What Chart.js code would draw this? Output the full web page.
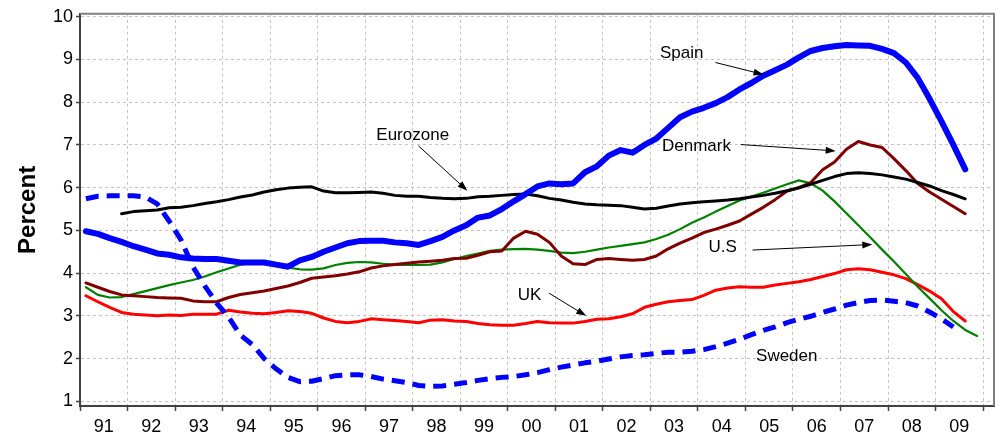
<!DOCTYPE html>
<html>
<head>
<meta charset="utf-8">
<script src="https://cdn.jsdelivr.net/npm/chart.js@4.4.1/dist/chart.umd.min.js"></script>
<style>
  body { margin: 0; background: #fff; }
  #wrap { width: 1005px; height: 435px; }
</style>
</head>
<body>
<div id="wrap"><canvas id="unempChart"></canvas></div>
<script>
// years on the axis, quarterly points inside each year
var years = [1991, 1992, 1993, 1994, 1995, 1996, 1997, 1998, 1999, 2000,
             2001, 2002, 2003, 2004, 2005, 2006, 2007, 2008, 2009];
var yTicks = [1, 2, 3, 4, 5, 6, 7, 8, 9, 10];

// values per quarter, Q1..Q4 on each line
var spain = [
    4.98, 4.92, 4.82, 4.73,
    4.63, 4.55, 4.46, 4.43,
    4.37, 4.34, 4.33, 4.33,
    4.29, 4.25, 4.25, 4.25,
    4.20, 4.15, 4.30, 4.38,
    4.50, 4.60, 4.70, 4.75,
    4.76, 4.76, 4.72, 4.70,
    4.66, 4.75, 4.85, 5.00,
    5.12, 5.30, 5.35, 5.50,
    5.68, 5.85, 6.03, 6.10,
    6.08, 6.10, 6.36, 6.50,
    6.75, 6.88, 6.82, 7.00,
    7.15, 7.40, 7.65, 7.78,
    7.87, 7.98, 8.12, 8.30,
    8.45, 8.62, 8.75, 8.88,
    9.05, 9.20, 9.27, 9.31,
    9.34, 9.33, 9.32, 9.25,
    9.15, 8.93, 8.57, 8.08,
    7.55, 7.00, 6.43, null
];
var sweden = [
    5.74, 5.80, 5.81, 5.81,
    5.81, 5.78, 5.62, 5.22,
    4.78, 4.15, 3.70, 3.30,
    2.97, 2.55, 2.33, 2.00,
    1.76, 1.56, 1.46, 1.47,
    1.53, 1.60, 1.62, 1.62,
    1.58, 1.52, 1.48, 1.44,
    1.37, 1.35, 1.36, 1.40,
    1.44, 1.49, 1.53, 1.56,
    1.58, 1.62, 1.67, 1.74,
    1.80, 1.85, 1.90, 1.94,
    1.99, 2.04, 2.07, 2.09,
    2.12, 2.15, 2.15, 2.17,
    2.21, 2.28, 2.36, 2.45,
    2.56, 2.66, 2.74, 2.84,
    2.92, 2.99, 3.08, 3.16,
    3.25, 3.31, 3.36, 3.37,
    3.34, 3.31, 3.23, 3.09,
    2.93, 2.74, null, null
];
var eurozone = [
    null, null, null, 5.39,
    5.44, 5.46, 5.48, 5.53,
    5.54, 5.58, 5.63, 5.67,
    5.72, 5.78, 5.83, 5.90,
    5.95, 5.99, 6.01, 6.02,
    5.92, 5.88, 5.88, 5.89,
    5.90, 5.87, 5.82, 5.80,
    5.80, 5.77, 5.75, 5.74,
    5.75, 5.79, 5.80, 5.82,
    5.84, 5.85, 5.81, 5.75,
    5.71, 5.66, 5.62, 5.60,
    5.59, 5.58, 5.54, 5.50,
    5.52, 5.57, 5.62, 5.65,
    5.67, 5.69, 5.71, 5.74,
    5.78, 5.82, 5.87, 5.93,
    6.00, 6.08, 6.17, 6.26,
    6.33, 6.35, 6.33, 6.30,
    6.25, 6.20, 6.12, 6.04,
    5.93, 5.84, 5.74, null
];
var denmark = [
    3.77, 3.67, 3.57, 3.49,
    3.47, 3.45, 3.43, 3.42,
    3.41, 3.35, 3.33, 3.33,
    3.43, 3.50, 3.54, 3.58,
    3.64, 3.70, 3.78, 3.88,
    3.91, 3.94, 3.98, 4.03,
    4.12, 4.17, 4.20, 4.23,
    4.26, 4.28, 4.30, 4.34,
    4.35, 4.42, 4.50, 4.52,
    4.82, 4.98, 4.91, 4.72,
    4.40, 4.22, 4.20, 4.32,
    4.34, 4.32, 4.30, 4.32,
    4.40, 4.57, 4.70, 4.82,
    4.95, 5.03, 5.12, 5.22,
    5.38, 5.54, 5.72, 5.92,
    6.00, 6.12, 6.42, 6.60,
    6.90, 7.08, 7.00, 6.94,
    6.68, 6.40, 6.10, 5.90,
    5.73, 5.56, 5.39, null
];
var us = [
    3.67, 3.49, 3.43, 3.44,
    3.51, 3.58, 3.65, 3.72,
    3.78, 3.84, 3.92, 4.02,
    4.11, 4.20, 4.24, 4.24,
    4.20, 4.13, 4.09, 4.08,
    4.11, 4.19, 4.24, 4.26,
    4.25, 4.22, 4.20, 4.19,
    4.19, 4.20, 4.25, 4.33,
    4.40, 4.46, 4.52, 4.55,
    4.56, 4.57, 4.55, 4.52,
    4.48, 4.47, 4.50, 4.55,
    4.60, 4.64, 4.68, 4.72,
    4.80, 4.90, 5.03, 5.18,
    5.30, 5.44, 5.57, 5.70,
    5.79, 5.88, 5.98, 6.08,
    6.17, 6.10, 5.93, 5.68,
    5.40, 5.12, 4.84, 4.55,
    4.27, 3.98, 3.68, 3.41,
    3.13, 2.88, 2.67, 2.53
];
var uk = [
    3.47, 3.33, 3.20, 3.08,
    3.04, 3.02, 3.00, 3.02,
    3.01, 3.04, 3.04, 3.04,
    3.13, 3.09, 3.06, 3.05,
    3.08, 3.12, 3.10, 3.06,
    2.95, 2.87, 2.84, 2.87,
    2.93, 2.91, 2.89, 2.87,
    2.84, 2.90, 2.91, 2.88,
    2.87, 2.82, 2.79, 2.78,
    2.78, 2.82, 2.87, 2.84,
    2.83, 2.83, 2.87, 2.92,
    2.93, 2.98, 3.05, 3.20,
    3.27, 3.33, 3.36, 3.38,
    3.48, 3.60, 3.65, 3.68,
    3.67, 3.67, 3.72, 3.76,
    3.80, 3.85, 3.92, 3.99,
    4.08, 4.10, 4.08, 4.02,
    3.96, 3.87, 3.73, 3.58,
    3.40, 3.10, 2.88, null
];

// text labels with arrows, in axis units (year, percent)
var notes = [
    { text: 'Spain',    x: 2003.66, y: 9.15, from: [2004.37, 8.93], to: [2005.38, 8.65] },
    { text: 'Eurozone', x: 1998.00, y: 7.23, from: [1998.12, 6.98], to: [1999.15, 5.93] },
    { text: 'Denmark',  x: 2003.97, y: 6.96, from: [2004.90, 7.01], to: [2006.90, 6.86] },
    { text: 'U.S',      x: 2004.52, y: 4.60, from: [2005.15, 4.54], to: [2007.67, 4.67] },
    { text: 'UK',       x: 2000.46, y: 3.49, from: [2000.87, 3.53], to: [2001.65, 3.00] },
    { text: 'Sweden',   x: 2005.87, y: 2.05 }
];

var FONT = "'Liberation Sans', Arial, sans-serif";

// quarter midpoints
var quarters = [];
years.forEach(function (y) {
    for (var q = 0; q < 4; q++) quarters.push(y + q * 0.25 + 0.125);
});

function toPoints(values) {
    return quarters.map(function (x, i) { return { x: x, y: values[i] }; });
}

function drawArrow(ctx, x1, y1, x2, y2) {
    var ang = Math.atan2(y2 - y1, x2 - x1);
    var len = 10, half = 3.5;
    ctx.beginPath();
    ctx.moveTo(x1, y1);
    ctx.lineTo(x2 - Math.cos(ang) * len * 0.8, y2 - Math.sin(ang) * len * 0.8);
    ctx.stroke();
    ctx.beginPath();
    ctx.moveTo(x2, y2);
    ctx.lineTo(x2 - Math.cos(ang) * len + Math.sin(ang) * half, y2 - Math.sin(ang) * len - Math.cos(ang) * half);
    ctx.lineTo(x2 - Math.cos(ang) * len - Math.sin(ang) * half, y2 - Math.sin(ang) * len + Math.cos(ang) * half);
    ctx.closePath();
    ctx.fill();
}

var framePlugin = {
    id: 'frame',
    beforeDatasetsDraw: function (chart) {
        var a = chart.chartArea, ctx = chart.ctx;
        ctx.save();
        ctx.strokeStyle = '#808080';
        ctx.lineWidth = 2;
        ctx.beginPath();
        ctx.moveTo(a.left, a.top);
        ctx.lineTo(a.right, a.top);
        ctx.lineTo(a.right, a.bottom);
        ctx.stroke();
        ctx.restore();
    }
};

var notesPlugin = {
    id: 'notes',
    afterDatasetsDraw: function (chart) {
        var xs = chart.scales.x, ys = chart.scales.y, ctx = chart.ctx;
        ctx.save();
        ctx.fillStyle = '#000';
        ctx.strokeStyle = '#000';
        ctx.lineWidth = 1;
        ctx.font = '17px ' + FONT;
        ctx.textAlign = 'center';
        ctx.textBaseline = 'middle';
        notes.forEach(function (n) {
            ctx.fillText(n.text, xs.getPixelForValue(n.x), ys.getPixelForValue(n.y));
            if (n.from) {
                drawArrow(ctx,
                    xs.getPixelForValue(n.from[0]), ys.getPixelForValue(n.from[1]),
                    xs.getPixelForValue(n.to[0]), ys.getPixelForValue(n.to[1]));
            }
        });
        ctx.restore();
    }
};

function line(label, values, color, width, dash) {
    return {
        label: label,
        data: toPoints(values),
        borderColor: color,
        backgroundColor: color,
        borderWidth: width,
        borderDash: dash || [],
        borderCapStyle: dash ? 'butt' : 'round',
        borderJoinStyle: 'round',
        pointRadius: 0,
        tension: 0,
        spanGaps: false,
        fill: false
    };
}

var ctx = document.getElementById('unempChart').getContext('2d');
var unempChart = new Chart(ctx, {
    type: 'line',
    data: {
        datasets: [
            line('Spain', spain, '#0000ff', 6),
            line('Sweden', sweden, '#0000ff', 5, [13, 8]),
            line('Eurozone', eurozone, '#000000', 3),
            line('Denmark', denmark, '#800000', 3),
            line('U.S', us, '#008000', 2.2),
            line('UK', uk, '#ff0000', 3)
        ]
    },
    options: {
        responsive: true,
        maintainAspectRatio: false,
        animation: false,
        layout: { padding: { left: 0, top: 12, right: 11, bottom: 0 } },
        plugins: {
            legend: { display: false },
            tooltip: { enabled: false }
        },
        scales: {
            x: {
                type: 'linear',
                min: 1991,
                max: 2010.23,
                afterBuildTicks: function (scale) {
                    scale.ticks = years.concat([2010]).map(function (v) { return { value: v }; });
                },
                afterFit: function (scale) { scale.height = 29; },
                grid: {
                    color: '#c4c4c4',
                    lineWidth: 1,
                    tickLength: 5,
                    tickColor: '#404040',
                    tickWidth: 1.5,
                    tickBorderDash: []
                },
                border: { color: '#404040', width: 2, dash: [3, 3] },
                ticks: {
                    color: '#000',
                    font: { family: FONT, size: 18 },
                    padding: 5,
                    maxRotation: 0,
                    autoSkip: false,
                    labelOffset: 23.75,
                    callback: function (v) {
                        return v < 2010 ? String(v % 100).padStart(2, '0') : '';
                    }
                }
            },
            y: {
                type: 'linear',
                min: 0.89,
                max: 10.07,
                afterBuildTicks: function (scale) {
                    scale.ticks = yTicks.map(function (v) { return { value: v }; });
                },
                afterFit: function (scale) { scale.width = 80; },
                grid: {
                    color: '#c4c4c4',
                    lineWidth: 1,
                    tickLength: 4,
                    tickColor: '#404040',
                    tickWidth: 1.5,
                    tickBorderDash: []
                },
                border: { color: '#404040', width: 2, dash: [3, 3] },
                ticks: {
                    color: '#000',
                    font: { family: FONT, size: 18 },
                    padding: 3
                },
                title: {
                    display: true,
                    text: 'Percent',
                    color: '#000',
                    font: { family: FONT, size: 24, weight: 'bold' },
                    padding: { top: 14, bottom: 0 }
                }
            }
        }
    },
    plugins: [framePlugin, notesPlugin]
});
</script>
</body>
</html>
